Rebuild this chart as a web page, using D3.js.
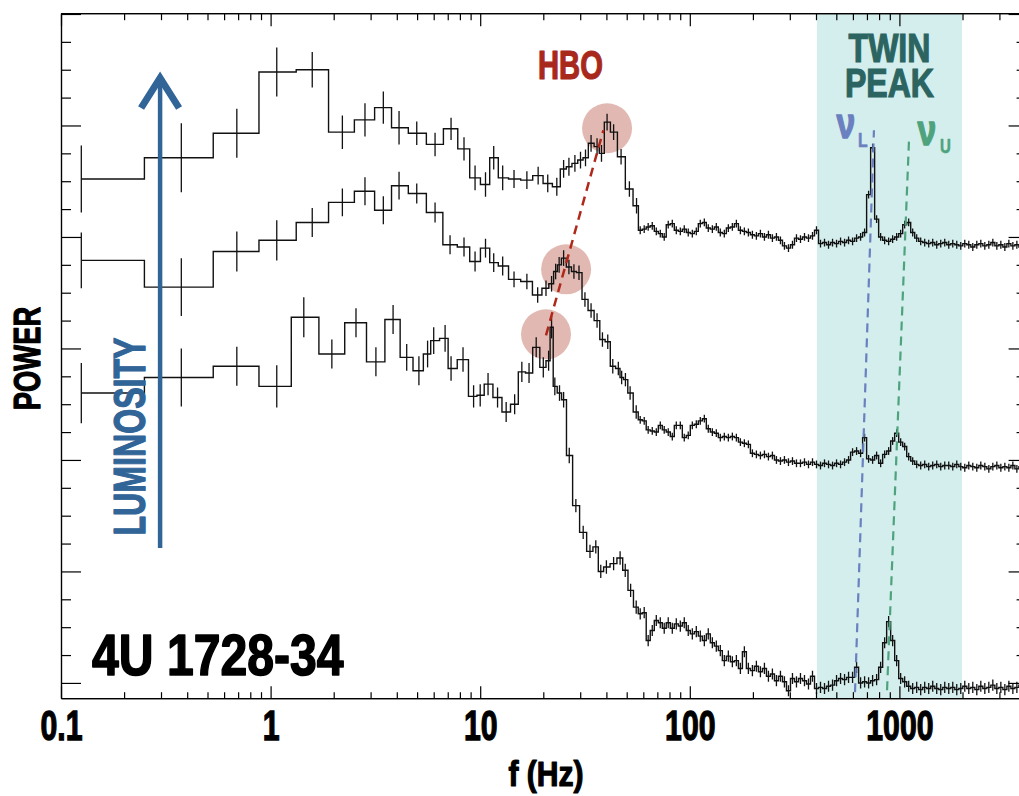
<!DOCTYPE html>
<html><head><meta charset="utf-8">
<script src="https://d3js.org/d3.v7.min.js"></script>
<style>html,body{margin:0;padding:0;background:#fff;overflow:hidden}</style>
</head><body>
<svg id="chart" width="1019" height="796"></svg>
<script>
// ---------- DATA ----------
// Sparse (low-frequency) bins: centre frequency (Hz), power (axis units), error
const topFreq = [0.125,0.375,0.69,1.07,1.58,2.2,2.82,3.45,4.10,4.98,6.09,7.26,8.37,9.45,10.6,11.6,12.8,14.5,16.7,18.9,21.0,23.2,25.0,26.5,28.3,30.1,31.8,33.8,36.1,37.9,40.3,43.3,47.0,51.5,55.7];
const topVal  = [4.52,4.71,4.93,5.48,5.50,4.94,5.05,5.16,4.98,4.93,4.83,4.97,4.79,4.53,4.47,4.71,4.53,4.52,4.51,4.55,4.48,4.45,4.61,4.63,4.66,4.69,4.71,4.84,4.81,4.75,5.03,4.94,4.72,4.43,4.28];
const topErr  = [0.30,0.31,0.22,0.22,0.16,0.15,0.15,0.145,0.15,0.105,0.105,0.10,0.105,0.11,0.11,0.105,0.11,0.08,0.08,0.08,0.08,0.08,0.08,0.08,0.075,0.075,0.075,0.075,0.075,0.075,0.075,0.07,0.07,0.07,0.07];

const midFreq = [0.125,0.375,0.69,1.07,1.58,2.2,2.82,3.45,4.10,4.98,6.09,7.18,8.37,9.45,10.6,11.6,12.8,14.5,16.7,18.8,20.6,21.9,22.9,23.8,25.0,26.5,28.0,29.6,31.6,33.8,36.1,38.3,40.6,42.9,45.6,47.3,49.3,51.9,55.5];
const midVal  = [3.79,3.55,3.87,3.97,4.13,4.31,4.41,4.24,4.46,4.39,4.22,3.93,3.91,3.78,3.90,3.77,3.74,3.62,3.60,3.48,3.54,3.58,3.69,3.75,3.81,3.73,3.69,3.68,3.44,3.34,3.25,3.08,3.06,2.84,2.82,2.74,2.72,2.60,2.43];
const midErr  = [0.25,0.26,0.18,0.18,0.13,0.125,0.125,0.125,0.125,0.09,0.09,0.085,0.085,0.09,0.085,0.085,0.085,0.07,0.07,0.07,0.07,0.07,0.07,0.07,0.07,0.065,0.065,0.065,0.065,0.065,0.065,0.065,0.065,0.065,0.06,0.06,0.06,0.06,0.06];

const botFreq = [0.125,0.375,0.69,1.07,1.44,1.96,2.555,3.18,3.84,4.46,5.10,5.61,6.0,6.8,7.26,8.28,9.3,10.0,10.9,12.1,13.3,14.6,15.8,17.1,18.5,20.0,21.2,21.9,22.7,23.9,25.0,26.6,28.6,31.0,33.4,35.6,37.6,40.0,43.3,46.5,49.2,52.2,55.5];
const botVal  = [2.60,2.74,2.84,2.66,3.28,2.95,3.23,2.88,3.26,2.92,2.80,2.95,3.07,3.09,2.82,2.90,2.57,2.58,2.68,2.56,2.43,2.50,2.79,2.78,3.01,2.83,2.89,3.19,2.66,2.60,2.54,2.04,1.59,1.35,1.18,1.22,1.00,1.04,1.07,1.12,1.01,0.83,0.68];
const botErr  = [0.27,0.26,0.175,0.19,0.18,0.13,0.13,0.13,0.13,0.12,0.13,0.12,0.12,0.12,0.11,0.11,0.10,0.10,0.10,0.09,0.09,0.09,0.09,0.09,0.09,0.09,0.09,0.10,0.08,0.07,0.07,0.07,0.06,0.06,0.06,0.06,0.06,0.06,0.06,0.06,0.06,0.06,0.06];

// Dense (high-frequency) bins shared by the three spectra
const denseFreq = [58,60.6,63.3,66.2,69.2,72.3,75.5,78.9,82.5,86.2,90.1,94.1,98.3,102.8,107.4,112.2,117.3,122.5,128.1,133.8,139.8,146.1,152.7,159.6,166.8,174.3,182.1,190.3,198.9,207.8,217.2,227.0,237.2,247.8,259.0,270.7,282.8,295.6,308.9,322.8,337.3,352.5,368.3,384.9,402.2,420.3,439.2,459.0,479.7,501.3,523.9,547.4,572.0,597.8,624.7,652.8,682.2,712.9,745.0,778.5,813.6,850.2,888.4,928.4,970.2,1013.9,1059.5,1107.2,1157.0,1209.1,1263.5,1320.4,1379.8,1441.9,1506.8,1574.6,1645.4,1719.5,1796.9,1877.7,1962.2,2050.5,2142.8,2239.2,2340.0,2445.3,2555.3,2670.3,2790.5,2916.1,3047.3,3184.4,3327.7,3477.5,3634.0,3797.5,3968.4];
const topDense = [4.06,4.07,4.09,4.10,4.05,4.03,4.00,4.11,4.12,4.06,
 4.05,4.07,4.04,4.03,4.05,4.12,4.13,4.08,4.07,4.09,
 4.04,4.03,4.08,4.09,4.12,4.06,4.05,4.04,4.02,4.01,
 4.03,4.00,4.02,3.99,4.00,3.97,3.92,3.90,3.93,3.99,
 3.98,4.00,3.99,4.01,4.06,3.94,3.95,3.93,3.95,3.94,
 3.96,3.95,3.97,3.96,3.99,4.00,4.04,4.38,4.80,4.16,
 4.00,3.97,3.96,3.98,4.00,4.03,4.11,4.13,4.04,3.99,
 3.96,3.95,3.94,3.95,3.93,3.94,3.95,3.93,3.94,3.93,
 3.92,3.94,3.93,3.91,3.93,3.94,3.92,3.93,3.95,3.92,
 3.93,3.91,3.94,3.92,3.93,3.91,3.92];
const midDense = [2.36,2.35,2.27,2.26,2.25,2.31,2.27,2.25,2.21,2.31,
 2.31,2.20,2.22,2.31,2.32,2.35,2.37,2.28,2.25,2.24,
 2.20,2.21,2.20,2.21,2.20,2.16,2.15,2.14,2.06,2.05,
 2.04,2.05,2.03,2.04,2.00,1.99,2.00,1.98,1.99,1.97,
 1.97,1.98,1.96,1.98,1.96,1.95,1.97,1.96,1.95,1.97,
 1.96,1.98,2.00,2.07,2.08,2.06,2.20,2.01,2.00,2.04,
 1.97,2.05,2.08,2.17,2.24,2.16,2.12,2.03,1.99,1.96,
 1.95,1.96,1.94,1.95,1.96,1.94,1.95,1.95,1.94,1.96,
 1.94,1.93,1.95,1.94,1.93,1.95,1.94,1.92,1.94,1.95,
 1.93,1.94,1.93,1.95,1.92,1.94,1.93];
const botDense = [0.62,0.63,0.38,0.47,0.56,0.54,0.49,0.54,0.49,0.53,
 0.51,0.54,0.47,0.44,0.46,0.42,0.38,0.44,0.36,0.33,
 0.29,0.20,0.24,0.19,0.20,0.13,0.28,0.13,0.11,0.15,
 0.10,0.13,0.06,0.08,0.02,0.06,0.01,-0.07,0.04,0.01,
 0.04,0.02,-0.01,0.06,-0.05,-0.04,-0.05,-0.03,-0.02,0.02,
 0.04,0.03,0.05,0.05,0.14,0.00,0.01,0.00,0.02,0.03,
 0.14,0.36,0.55,0.38,0.20,0.04,0.01,-0.03,-0.05,-0.04,
 -0.06,-0.04,-0.05,-0.03,-0.05,-0.06,-0.04,-0.05,-0.04,-0.06,
 -0.05,-0.03,-0.05,-0.04,-0.06,-0.03,-0.05,-0.04,-0.02,-0.05,
 -0.04,-0.06,-0.03,-0.05,-0.04,-0.02,-0.04];
const denseErr = [0.035, 0.035, 0.05]; // top, middle, bottom

// Annotations (data coordinates)
const twinBand = [404, 1990];
const hboFreq = [40.3, 25.7, 20.6];
const hboPow  = [4.975, 3.71, 3.127];
const hboTrendFreq = [20.6, 38.7];
const hboTrendPow  = [3.118, 4.957];
const nuLFreq = [614, 756];
const nuLPow  = [-0.083, 4.957];
const nuUFreq = [873, 1111];
const nuUPow  = [-0.065, 4.867];

const xMajor = [0.1, 1, 10, 100, 1000];
const xLabels = ["0.1", "1", "10", "100", "1000"];

// ---------- CHART ----------
const svg = d3.select('#chart');
const X0 = 61, X1 = 1025.6, Y0 = 698.2, Y1 = 13.2;
const x = d3.scaleLog().domain([0.1, 4000]).range([X0, X1]);
const y = d3.scaleLinear().domain([-0.137, 6.007]).range([Y0, Y1]);
const FONT = '"Liberation Sans", Arial, Helvetica, sans-serif';

svg.append('defs').append('clipPath').attr('id','plotclip')
  .append('rect').attr('x',X0).attr('y',Y1).attr('width',X1-X0).attr('height',Y0-Y1);

// twin peak band
svg.append('rect')
  .attr('x', x(twinBand[0])).attr('y', Y1)
  .attr('width', x(twinBand[1]) - x(twinBand[0])).attr('height', Y0 - Y1)
  .attr('fill', '#d3eeec');

// HBO circles
svg.append('g').selectAll('circle').data(hboFreq).join('circle')
  .attr('cx', d => x(d)).attr('cy', (d,i) => y(hboPow[i])).attr('r', 25)
  .attr('fill', '#dba79f').attr('opacity', 0.8);

// spectra
const plot = svg.append('g').attr('clip-path','url(#plotclip)');
function drawCurve(freq, val, err) {
  const n = freq.length;
  const edges = [freq[0]];
  for (let i = 1; i < n; i++) edges.push((freq[i-1] + freq[i]) / 2);
  edges.push(freq[n-1] + (freq[n-1] - freq[n-2]) / 2);
  let d = `M${x(edges[0])},${y(val[0])}`;
  for (let i = 0; i < n; i++) {
    if (i > 0) d += `V${y(val[i])}`;
    d += `H${x(edges[i+1])}`;
  }
  plot.append('path').attr('d', d).attr('fill','none')
    .attr('stroke','#111').attr('stroke-width',1.4);
  plot.append('g').selectAll('line').data(freq).join('line')
    .attr('x1', f => x(f)).attr('x2', f => x(f))
    .attr('y1', (f,i) => y(val[i] - err[i])).attr('y2', (f,i) => y(val[i] + err[i]))
    .attr('stroke','#111').attr('stroke-width',1.3);
}
const curves = [
  [topFreq, topVal, topErr, topDense, denseErr[0]],
  [midFreq, midVal, midErr, midDense, denseErr[1]],
  [botFreq, botVal, botErr, botDense, denseErr[2]]
];
curves.forEach(([f, v, e, dv, de]) => {
  drawCurve(f.concat(denseFreq), v.concat(dv), e.concat(denseFreq.map(() => de)));
});

// dashed guide lines
function dashLine(fs, ps, color, w, dash) {
  svg.append('line')
    .attr('x1', x(fs[0])).attr('y1', y(ps[0]))
    .attr('x2', x(fs[1])).attr('y2', y(ps[1]))
    .attr('stroke', color).attr('stroke-width', w).attr('stroke-dasharray', dash);
}
dashLine(hboTrendFreq, hboTrendPow, '#b0281a', 2.5, '9,6');
dashLine(nuLFreq, nuLPow, '#6a80c0', 2.2, '9,6');
dashLine(nuUFreq, nuUPow, '#4ea37d', 2.2, '9,6');

// axes
const minorX = [];
[0.1, 1, 10, 100, 1000].forEach(dec => { for (let k = 2; k <= 9; k++) if (dec*k <= 4000) minorX.push(dec*k); });
const majorY = d3.range(0, 7);
const minorY = d3.range(0, 6.01, 0.25).filter(v => Math.abs(v - Math.round(v)) > 0.01);

function styleAxis(g) {
  g.selectAll('path,line').attr('stroke', '#000').attr('stroke-width', 1.2);
}
// bottom
svg.append('g').attr('transform', `translate(0,${Y0})`)
  .call(d3.axisBottom(x).tickValues(minorX).tickSize(-6).tickSizeOuter(0).tickFormat(''))
  .call(styleAxis);
const bottomMajor = svg.append('g').attr('transform', `translate(0,${Y0})`)
  .call(d3.axisBottom(x).tickValues(xMajor).tickSize(-12).tickSizeOuter(0)
    .tickFormat((d,i) => xLabels[i]))
  .call(styleAxis);
bottomMajor.selectAll('text')
  .attr('y', 42).attr('dy', 0)
  .attr('font-family', FONT).attr('font-weight', 'bold').attr('font-size', 42)
  .attr('fill', '#000').attr('stroke', '#000').attr('stroke-width', 1.3)
  .attr('transform', 'scale(0.72,1)');
// top
svg.append('g').attr('transform', `translate(0,${Y1})`)
  .call(d3.axisTop(x).tickValues(minorX).tickSize(-7).tickSizeOuter(0).tickFormat(''))
  .call(styleAxis);
svg.append('g').attr('transform', `translate(0,${Y1})`)
  .call(d3.axisTop(x).tickValues(xMajor).tickSize(-13).tickSizeOuter(0).tickFormat(''))
  .call(styleAxis);
// left
svg.append('g').attr('transform', `translate(${X0},0)`)
  .call(d3.axisLeft(y).tickValues(minorY).tickSize(-10).tickSizeOuter(0).tickFormat(''))
  .call(styleAxis);
svg.append('g').attr('transform', `translate(${X0},0)`)
  .call(d3.axisLeft(y).tickValues(majorY).tickSize(-20).tickSizeOuter(0).tickFormat(''))
  .call(styleAxis);
// right
svg.append('g').attr('transform', `translate(${X1},0)`)
  .call(d3.axisRight(y).tickValues(minorY).tickSize(-9).tickSizeOuter(0).tickFormat(''))
  .call(styleAxis);
svg.append('g').attr('transform', `translate(${X1},0)`)
  .call(d3.axisRight(y).tickValues(majorY).tickSize(-17).tickSizeOuter(0).tickFormat(''))
  .call(styleAxis);

// text helper (bold condensed look: scaled Liberation Sans Bold + thin outline)
function label(txt, tx, ty, size, sx, color, anchor, rot, sw) {
  const g = svg.append('g').attr('transform', `translate(${tx},${ty}) rotate(${rot||0}) scale(${sx},1)`);
  return g.append('text').text(txt)
    .attr('font-family', FONT).attr('font-weight', 'bold').attr('font-size', size)
    .attr('fill', color).attr('stroke', color).attr('stroke-width', sw == null ? 1.2 : sw)
    .attr('stroke-linejoin', 'round')
    .attr('text-anchor', anchor || 'start');
}

label('f (Hz)', 546, 786, 35, 0.86, '#000', 'middle');
label('POWER', 39.5, 358.5, 37, 0.74, '#000', 'middle', -90);
label('4U 1728-34', 92, 675, 58, 0.83, '#000', 'start', 0, 1.6);
label('HBO', 538, 79, 40, 0.73, '#a8281c', 'start');

// TWIN PEAK as one two-line text
const bandMid = x(Math.sqrt(twinBand[0] * twinBand[1]));
const tp = svg.append('g').attr('transform', `translate(${bandMid},62) scale(0.8,1)`)
  .append('text')
  .attr('font-family', FONT).attr('font-weight', 'bold').attr('font-size', 40)
  .attr('fill', '#2b6461').attr('stroke', '#2b6461').attr('stroke-width', 1.2)
  .attr('text-anchor', 'middle');
tp.append('tspan').attr('x', 0).attr('y', 0).text('TWIN');
tp.append('tspan').attr('x', 0).attr('y', 35).text('PEAK');

label('ν', 836.5, 138.3, 42, 0.8, '#6a80c0', 'start', 0, 1.4);
label('L', 858, 147, 21, 0.75, '#6a80c0', 'start', 0, 0.6);
label('ν', 917.5, 145, 42, 0.8, '#4ea37d', 'start', 0, 1.4);
label('U', 940, 153.3, 20, 0.75, '#4ea37d', 'start', 0, 0.6);

// luminosity arrow
const arrowX = x(0.297);
const blue = '#316497';
svg.append('line').attr('x1', arrowX).attr('x2', arrowX).attr('y1', 548).attr('y2', 80)
  .attr('stroke', blue).attr('stroke-width', 4.5);
svg.append('polyline')
  .attr('points', `${arrowX-19},108 ${arrowX},78 ${arrowX+19},108`)
  .attr('fill', 'none').attr('stroke', blue).attr('stroke-width', 7)
  .attr('stroke-linejoin', 'miter').attr('stroke-miterlimit', 10);
label('LUMINOSITY', arrowX - 15, 436.5, 44, 0.73, blue, 'middle', -90, 1.3);
</script>
</body></html>
